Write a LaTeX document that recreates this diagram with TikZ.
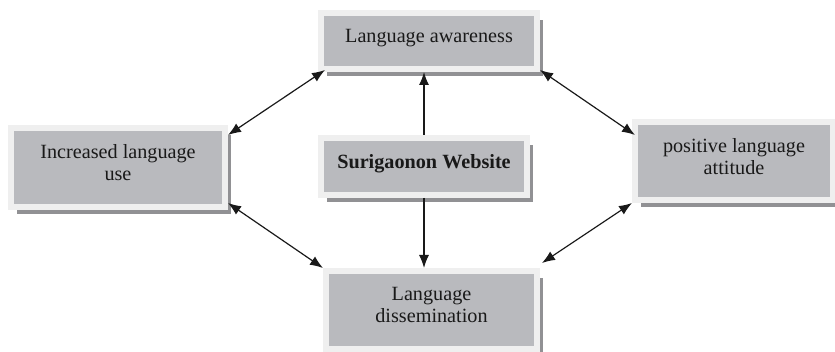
\documentclass[tikz,border=0pt]{standalone}
\usepackage{fontspec}
\setmainfont{Liberation Serif}
\usetikzlibrary{arrows.meta,shadows}
\definecolor{boxfill}{RGB}{185,186,190}
\definecolor{boxrim}{RGB}{239,239,239}
\definecolor{boxshade}{RGB}{145,145,148}
\definecolor{ink}{RGB}{25,25,25}

\begin{document}
\begin{tikzpicture}[x=0.5pt,y=-0.5pt,>={Latex[length=6.5pt,width=5pt]},
  font=\fontsize{10.1}{11}\selectfont,text=ink,
  box/.style={fill=boxfill,draw=boxrim,line width=3pt,align=center,inner sep=0pt,
    text depth=5pt,
    drop shadow={shadow xshift=3pt,shadow yshift=-3.5pt,fill=boxshade,opacity=1}},
  link/.style={<->,draw=ink,line width=0.6pt},
  feed/.style={->,draw=ink,line width=0.6pt}]
  \useasboundingbox (0,0) rectangle (835,352);

  % the five boxes
  \node[box,minimum width=108pt,minimum height=28pt] (aware) at (429,41)
    {Language awareness};
  \node[box,minimum width=103pt,minimum height=28.5pt,
    font=\fontsize{10.1}{11}\selectfont\bfseries] (site) at (424,166.5)
    {Surigaonon Website};
  \node[box,minimum width=107pt,minimum height=39.5pt] (use) at (118,167.5)
    {Increased language\\use};
  \node[box,minimum width=99pt,minimum height=39pt] (attit) at (734,161)
    {positive language\\attitude};
  \node[box,minimum width=105.5pt,minimum height=39pt] (dissem) at (431.5,310)
    {Language\\dissemination};

  % website feeds the top and bottom boxes
  \draw[feed] (site.north) -- (site.north |- aware.south);
  \draw[feed] (site.south) -- (site.south |- dissem.north);

  % the ring of two-way links
  \draw[link] ([yshift=-5pt]use.north east) -- ([xshift=3.5pt,yshift=1pt]aware.south west);
  \draw[link] ([yshift=1pt]aware.south east) -- ([xshift=1.5pt,yshift=-8pt]attit.north west);
  \draw[link] ([yshift=3.5pt]use.south east) -- (dissem.north west);
  \draw[link] ([xshift=1pt,yshift=2.5pt]dissem.north east) -- (attit.south west);
\end{tikzpicture}
\end{document}
